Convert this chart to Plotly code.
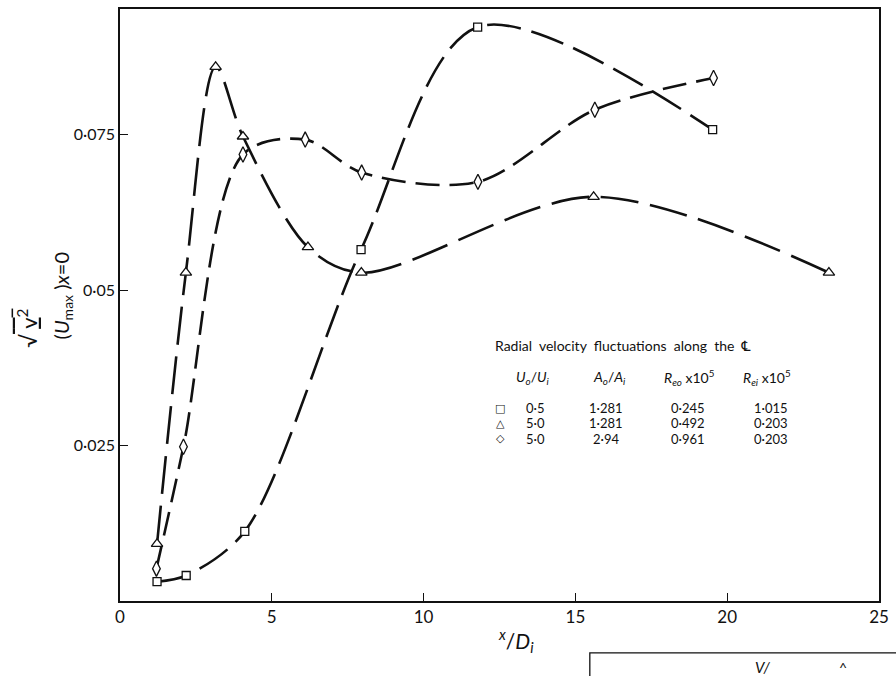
import plotly.graph_objects as go

# ---- data ----
sq_x = [1.22, 2.18, 4.11, 7.94, 11.78, 19.52]
sq_y = [0.0031, 0.0041, 0.0112, 0.0565, 0.0923, 0.0758]

tri_x = [1.22, 2.17, 3.15, 4.05, 6.19, 7.95, 15.6, 23.35]
tri_y = [0.0092, 0.0528, 0.0859, 0.0747, 0.0569, 0.0528, 0.0650, 0.0528]

dia_x = [1.20, 2.09, 4.05, 6.10, 7.96, 11.79, 15.64, 19.55]
dia_y = [0.0052, 0.0248, 0.0718, 0.0742, 0.0689, 0.0674, 0.0790, 0.0841]

x_ticks = [0, 5, 10, 15, 20, 25]
x_ticktext = ["0", "5", "10", "15", "20", "25"]
y_ticks = [0.025, 0.05, 0.075]
y_ticktext = ["0·025", "0·05", "0·075"]

legend_title = "Radial  velocity  fluctuations  along  the  \u2104"
legend_headers = [
    "<i>U</i><sub><i>o</i></sub>/<i>U</i><sub><i>i</i></sub>",
    "<i>A</i><sub><i>o</i></sub>/<i>A</i><sub><i>i</i></sub>",
    "<i>R</i><sub><i>eo</i></sub> x10<sup>5</sup>",
    "<i>R</i><sub><i>ei</i></sub> x10<sup>5</sup>",
]
legend_symbols = ["\u25A1", "\u25B3", "\u25C7"]
col_uo_ui = ["0·5", "5·0", "5·0"]
col_ao_ai = ["1·281", "1·281", "2·94"]
col_reo = ["0·245", "0·492", "0·961"]
col_rei = ["1·015", "0·203", "0·203"]

FONT = "Lato, 'DejaVu Sans', sans-serif"
BLACK = "#111111"

fig = go.Figure()

series = [
    (sq_x, sq_y, "square", 8, "34px,11px"),
    (tri_x, tri_y, "triangle-up", 10, "38px,12px"),
    (dia_x, dia_y, "diamond-tall", 11, "24px,10px"),
]
for xs, ys, sym, size, dash in series:
    fig.add_trace(go.Scatter(
        x=xs, y=ys, mode="lines",
        line=dict(shape="spline", smoothing=0.9, dash=dash, width=2.6, color=BLACK),
        hoverinfo="skip", showlegend=False,
    ))
for xs, ys, sym, size, dash in series:
    fig.add_trace(go.Scatter(
        x=xs, y=ys, mode="markers",
        marker=dict(symbol=sym, size=size, color="white",
                    line=dict(color=BLACK, width=1.3)),
        showlegend=False,
    ))

fig.update_layout(
    width=896, height=676,
    margin=dict(l=120, r=14, t=7, b=75),
    paper_bgcolor="white", plot_bgcolor="white",
    font=dict(family=FONT, color=BLACK, size=16),
    showlegend=False,
)
fig.update_xaxes(
    range=[0, 25], tickvals=x_ticks, ticktext=x_ticktext,
    ticks="inside", ticklen=8, tickwidth=1.3, tickcolor=BLACK,
    showline=True, linecolor=BLACK, linewidth=1.6, mirror=True,
    showgrid=False, zeroline=False, tickfont=dict(size=17),
)
fig.update_yaxes(
    range=[0, 0.0952], tickvals=y_ticks, ticktext=y_ticktext,
    ticks="inside", ticklen=8, tickwidth=1.3, tickcolor=BLACK,
    showline=True, linecolor=BLACK, linewidth=1.6, mirror=True,
    showgrid=False, zeroline=False, tickfont=dict(size=16),
)


def note(text, x, y, size, angle=0, family=FONT, xanchor="center"):
    return dict(text=text, x=x, y=y, xref="paper", yref="paper",
                xanchor=xanchor, yanchor="middle", textangle=angle,
                showarrow=False, font=dict(size=size, family=family, color=BLACK))


ann = []
# y-axis label (two rotated lines)
ann.append(note("\u221A<span style='text-decoration:overline'> <u>v</u><sup>2</sup></span>",
                -0.123, 0.461, 22, angle=-90))
ann.append(note("(<i>U</i><sub>max</sub> )<i>x</i>=0", -0.076, 0.515, 20, angle=-90))
# x-axis label
ann.append(note("<sup><i>x</i></sup>/<i>D</i><sub><i>i</i></sub>", 0.522, -0.066, 21))
# legend table
ann.append(note(legend_title, 0.492, 0.431, 14, xanchor="left"))
head_x = [0.544, 0.645, 0.750, 0.852]
for hx, h in zip(head_x, legend_headers):
    ann.append(note(h, hx, 0.377, 14))
row_y = [0.326, 0.300, 0.274]
col_x = [0.547, 0.640, 0.748, 0.858]
for i, ry in enumerate(row_y):
    ann.append(note(legend_symbols[i], 0.501, ry, 11, family="DejaVu Sans"))
    for cx, col in zip(col_x, [col_uo_ui, col_ao_ai, col_reo, col_rei]):
        ann.append(note(col[i], cx, ry, 13))

# partial box of the next figure at the bottom edge
ann.append(note("<i>V/</i>", 0.847, -0.112, 15))
ann.append(note("^", 0.952, -0.112, 14))
fig.update_layout(annotations=ann)
fig.add_shape(type="rect", xref="paper", yref="paper",
              x0=0.619, x1=1.03, y0=-0.16, y1=-0.0875,
              line=dict(color=BLACK, width=1.3))

fig.write_html("out.html")
